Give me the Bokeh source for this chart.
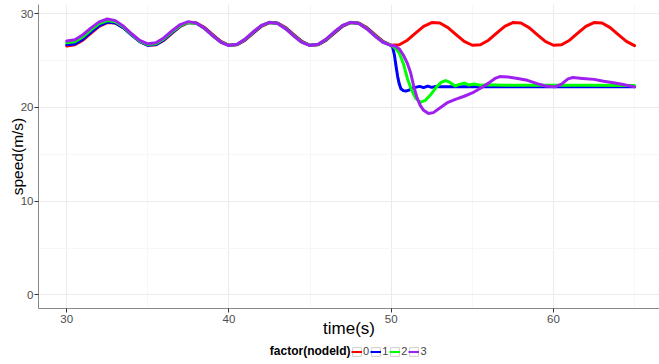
from bokeh.plotting import figure
from bokeh.layouts import column
from bokeh.models import Range1d, SingleIntervalTicker, Legend, LegendItem, Label
from bokeh.embed import file_html
from bokeh.resources import INLINE

# ---------------- data ----------------
t_red = [30.0, 30.5, 31.0, 31.5, 32.0, 32.5, 33.0, 33.5, 34.0, 34.5,
         35.0, 35.5, 36.0, 36.5, 37.0, 37.5, 38.0, 38.5, 39.0, 39.5,
         40.0, 40.5, 41.0, 41.5, 42.0, 42.5, 43.0, 43.5, 44.0, 44.5,
         45.0, 45.5, 46.0, 46.5, 47.0, 47.5, 48.0, 48.5, 49.0, 49.5,
         50.0, 50.5, 51.0, 51.5, 52.0, 52.5, 53.0, 53.5, 54.0, 54.5,
         55.0, 55.5, 56.0, 56.5, 57.0, 57.5, 58.0, 58.5, 59.0, 59.5,
         60.0, 60.5, 61.0, 61.5, 62.0, 62.5, 63.0, 63.5, 64.0, 64.5,
         65.0]
speed_0 = [26.55, 26.69, 27.18, 27.93, 28.65, 29.06, 29.01, 28.52, 27.77, 27.05,
           26.64, 26.69, 27.18, 27.93, 28.65, 29.06, 29.01, 28.52, 27.77, 27.05,
           26.64, 26.69, 27.18, 27.93, 28.65, 29.06, 29.01, 28.52, 27.77, 27.05,
           26.64, 26.69, 27.18, 27.93, 28.65, 29.06, 29.01, 28.52, 27.77, 27.05,
           26.64, 26.69, 27.18, 27.93, 28.65, 29.06, 29.01, 28.52, 27.77, 27.05,
           26.64, 26.69, 27.18, 27.93, 28.65, 29.06, 29.01, 28.52, 27.77, 27.05,
           26.64, 26.69, 27.18, 27.93, 28.65, 29.06, 29.01, 28.52, 27.77, 27.05,
           26.60]

t_blue = [30.0, 30.5, 31.0, 31.5, 32.0, 32.5, 33.0, 33.5, 34.0, 34.5,
          35.0, 35.5, 36.0, 36.5, 37.0, 37.5, 38.0, 38.5, 39.0, 39.5,
          40.0, 40.5, 41.0, 41.5, 42.0, 42.5, 43.0, 43.5, 44.0, 44.5,
          45.0, 45.5, 46.0, 46.5, 47.0, 47.5, 48.0, 48.5, 49.0, 49.5,
          50.0, 50.1, 50.2, 50.3, 50.4, 50.5, 50.6, 50.75, 50.9, 51.1,
          51.3, 51.5, 51.75, 52.0, 52.25, 52.5, 52.75, 53.0, 53.5, 54.0,
          55.0, 56.0, 58.0, 60.0, 62.0, 65.0]
speed_1 = [26.70, 26.78, 27.29, 28.05, 28.75, 29.11, 29.02, 28.49, 27.72, 27.02,
           26.63, 26.71, 27.23, 28.00, 28.70, 29.07, 28.99, 28.46, 27.70, 27.00,
           26.63, 26.71, 27.23, 28.00, 28.70, 29.07, 28.99, 28.46, 27.70, 27.00,
           26.63, 26.71, 27.23, 28.00, 28.70, 29.07, 28.99, 28.46, 27.70, 27.00,
           26.62, 26.35, 25.60, 24.40, 23.30, 22.50, 22.00, 21.80, 21.75, 21.85,
           22.05, 22.15, 22.25, 22.12, 22.28, 22.15, 22.25, 22.20, 22.22, 22.20,
           22.21, 22.20, 22.20, 22.20, 22.20, 22.20]

t_green = [30.0, 30.5, 31.0, 31.5, 32.0, 32.5, 33.0, 33.5, 34.0, 34.5,
           35.0, 35.5, 36.0, 36.5, 37.0, 37.5, 38.0, 38.5, 39.0, 39.5,
           40.0, 40.5, 41.0, 41.5, 42.0, 42.5, 43.0, 43.5, 44.0, 44.5,
           45.0, 45.5, 46.0, 46.5, 47.0, 47.5, 48.0, 48.5, 49.0, 49.5,
           50.0, 50.25, 50.5, 50.75, 51.0, 51.25, 51.5, 51.8, 52.1, 52.4,
           52.8, 53.1, 53.35, 53.6, 53.95, 54.2, 54.5, 54.8, 55.1, 55.5,
           56.0, 57.0, 58.0, 60.0, 62.0, 65.0]
speed_2 = [26.92, 27.01, 27.54, 28.28, 28.95, 29.28, 29.15, 28.58, 27.80, 27.09,
           26.72, 26.81, 27.34, 28.08, 28.75, 29.08, 28.97, 28.42, 27.66, 26.97,
           26.62, 26.73, 27.28, 28.04, 28.73, 29.08, 28.97, 28.42, 27.66, 26.97,
           26.62, 26.73, 27.28, 28.04, 28.73, 29.08, 28.97, 28.42, 27.66, 26.97,
           26.62, 26.35, 25.80, 24.70, 23.10, 21.90, 21.00, 20.55, 20.75, 21.30,
           22.20, 22.70, 22.87, 22.70, 22.30, 22.45, 22.60, 22.40, 22.50, 22.38,
           22.42, 22.38, 22.38, 22.37, 22.36, 22.35]

t_purple = [30.0, 30.5, 31.0, 31.5, 32.0, 32.5, 33.0, 33.5, 34.0, 34.5,
            35.0, 35.5, 36.0, 36.5, 37.0, 37.5, 38.0, 38.5, 39.0, 39.5,
            40.0, 40.5, 41.0, 41.5, 42.0, 42.5, 43.0, 43.5, 44.0, 44.5,
            45.0, 45.5, 46.0, 46.5, 47.0, 47.5, 48.0, 48.5, 49.0, 49.5,
            50.0, 50.25, 50.5, 50.75, 51.0, 51.2, 51.4, 51.6, 51.8, 52.0,
            52.3, 52.6, 53.0, 53.5, 54.0, 54.5, 55.0, 55.5, 56.0, 56.4,
            56.7, 57.2, 57.8, 58.4, 59.0, 59.5, 60.1, 60.5, 60.9, 61.2,
            61.8, 62.5, 63.1, 63.7, 64.3, 65.0]
speed_3 = [27.10, 27.23, 27.77, 28.50, 29.14, 29.44, 29.27, 28.66, 27.87, 27.16,
           26.80, 26.91, 27.45, 28.19, 28.85, 29.16, 29.00, 28.42, 27.65, 26.96,
           26.61, 26.75, 27.32, 28.08, 28.76, 29.09, 28.95, 28.38, 27.62, 26.94,
           26.61, 26.75, 27.32, 28.08, 28.76, 29.09, 28.95, 28.38, 27.62, 26.94,
           26.61, 26.55, 26.25, 25.60, 24.70, 23.70, 22.20, 21.00, 20.20, 19.70,
           19.35, 19.45, 19.95, 20.55, 20.90, 21.20, 21.55, 22.05, 22.60, 23.10,
           23.30, 23.25, 23.10, 22.90, 22.55, 22.30, 22.20, 22.50, 23.05, 23.20,
           23.10, 23.00, 22.80, 22.65, 22.45, 22.20]

node_ids = ["0", "1", "2", "3"]
colors = ["#FF0000", "#0000FF", "#00FF00", "#A020F0"]
x_ticks_interval = 10
y_ticks_interval = 10

FONT = "Liberation Sans"

# ---------------- main plot ----------------
p = figure(width=659, height=342, output_backend="svg", toolbar_location=None,
           x_range=Range1d(28.26, 66.54), y_range=Range1d(-1.45, 30.99),
           min_border_left=38, min_border_right=0, min_border_top=4,
           min_border_bottom=34)
p.outline_line_color = None
p.background_fill_color = "white"
p.border_fill_color = "white"

p.xaxis.ticker = SingleIntervalTicker(interval=x_ticks_interval, num_minor_ticks=2)
p.yaxis.ticker = SingleIntervalTicker(interval=y_ticks_interval, num_minor_ticks=2)

for ax in (p.xaxis[0], p.yaxis[0]):
    ax.axis_line_color = "#888888"
    ax.axis_line_width = 1
    ax.major_tick_line_color = "#333333"
    ax.major_tick_out = 4
    ax.major_tick_in = 0
    ax.minor_tick_line_color = None
    ax.major_label_text_font = FONT
    ax.major_label_text_font_size = "11.5px"
    ax.major_label_text_color = "#4D4D4D"
    ax.axis_label_text_font = FONT
    ax.axis_label_text_font_style = "normal"
    ax.axis_label_text_color = "black"

p.xaxis.axis_label = "time(s)"
p.xaxis.axis_label_text_font_size = "17px"
p.xaxis.major_label_standoff = 2
p.xaxis.axis_label_standoff = -7
p.yaxis.axis_label = "speed(m/s)"
p.yaxis.axis_label_text_font_size = "15.5px"
p.yaxis.major_label_standoff = 1
p.yaxis.axis_label_standoff = -8

for g in (p.xgrid[0], p.ygrid[0]):
    g.grid_line_color = "#EBEBEB"
    g.grid_line_width = 1
    g.minor_grid_line_color = "#F7F7F7"
    g.minor_grid_line_width = 1

series = [(t_red, speed_0), (t_blue, speed_1), (t_green, speed_2), (t_purple, speed_3)]
for (tt, vv), c in zip(series, colors):
    p.line(tt, vv, line_color=c, line_width=3, line_join="round", line_cap="round")

# ---------------- legend strip (frame aligned with the main plot's frame) ----------------
FRAME_LEFT = 38
LEG_W, LEG_H = 659, 22
q = figure(width=LEG_W, height=LEG_H, output_backend="svg", toolbar_location=None,
           x_range=Range1d(FRAME_LEFT, LEG_W), y_range=Range1d(0, LEG_H),
           x_axis_type=None, y_axis_type=None,
           min_border_left=FRAME_LEFT, min_border_right=0, min_border_top=0,
           min_border_bottom=0)
q.outline_line_color = None
q.xgrid.visible = False
q.ygrid.visible = False
q.background_fill_color = "white"
q.border_fill_color = "white"

items = []
for (tt, vv), nid, c in zip(series, node_ids, colors):
    # hidden renderers (same data) only used to draw the legend keys
    key_box = q.quad(left=[min(tt)], right=[max(tt)], bottom=[min(vv)], top=[max(vv)],
                     fill_color="white", line_color="#D0D0D0", line_width=1,
                     visible=False)
    key_line = q.line(x=tt, y=vv, line_color=c, line_width=2, visible=False)
    items.append(LegendItem(label=nid, renderers=[key_box, key_line]))

legend = Legend(items=items, orientation="horizontal", location=(313, 7),
                label_text_font=FONT, label_text_font_size="11px",
                label_standoff=1, label_height=12, label_width=6,
                glyph_width=11, glyph_height=11, spacing=1, padding=1, margin=0,
                border_line_color=None, background_fill_alpha=0,
                inactive_fill_alpha=0)
q.add_layout(legend)

legend_title = Label(x=350, y=14, text="factor(nodeId)", text_align="right",
                     text_baseline="middle", text_font=FONT, text_font_style="bold",
                     text_font_size="12px", text_color="black")
q.add_layout(legend_title)

layout = column(p, q, spacing=0)
open("out.html", "w").write(file_html(layout, INLINE))
